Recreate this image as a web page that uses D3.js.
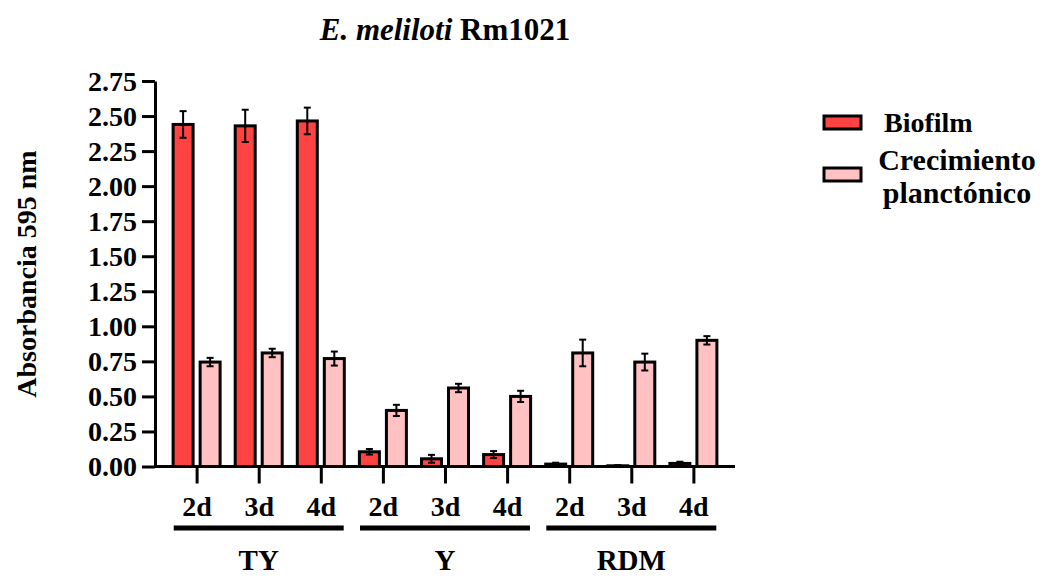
<!DOCTYPE html>
<html>
<head>
<meta charset="utf-8">
<script src="https://cdn.jsdelivr.net/npm/d3@7"></script>
<style>
  body { margin: 0; background: #fff; }
  text { font-family: "Liberation Serif", "Times New Roman", serif; font-weight: bold; fill: #000; }
  .axis path, .axis line { stroke: #000; stroke-width: 3; }
</style>
</head>
<body>
<div id="chart"></div>
<script>
// E. meliloti Rm1021 - biofilm vs planktonic growth

var groups = ["TY", "Y", "RDM"],
    days = ["2d", "3d", "4d"],
    categories = ["TY-2d", "TY-3d", "TY-4d", "Y-2d", "Y-3d", "Y-4d", "RDM-2d", "RDM-3d", "RDM-4d"],
    seriesNames = ["Biofilm", "Crecimiento planctónico"],
    biofilmMean = [2.44, 2.43, 2.465, 0.105, 0.055, 0.085, 0.017, 0.005, 0.022],
    biofilmErr = [0.095, 0.115, 0.095, 0.02, 0.028, 0.025, 0.01, 0.005, 0.012],
    planktonMean = [0.745, 0.81, 0.77, 0.40, 0.56, 0.50, 0.81, 0.745, 0.90],
    planktonErr = [0.03, 0.03, 0.05, 0.04, 0.03, 0.04, 0.095, 0.06, 0.03],
    yTicks = [0, 0.25, 0.5, 0.75, 1, 1.25, 1.5, 1.75, 2, 2.25, 2.5, 2.75];

var totwidth = 1042,
    totheight = 576,
    colors = ["#ff4242", "#ffc1c1"];

var svg = d3.select("#chart").append("svg")
    .attr("width", totwidth)
    .attr("height", totheight);

var xScale = d3.scalePoint()
    .domain(categories)
    .range([155, 735])
    .padding(0.67);

var subScale = d3.scaleBand()
    .domain(seriesNames)
    .range([-23.5, 23.5])
    .paddingInner(0.26);

var yScale = d3.scaleLinear()
    .domain([0, 2.75])
    .range([466.5, 81]);

var color = d3.scaleOrdinal().domain(seriesNames).range(colors);

// build rows: one per bar
var rows = [];
categories.forEach(function(c, i) {
  rows.push({cat: c, series: seriesNames[0], v: biofilmMean[i], e: biofilmErr[i]});
  rows.push({cat: c, series: seriesNames[1], v: planktonMean[i], e: planktonErr[i]});
});

// bars
svg.selectAll(".bar")
   .data(rows)
   .enter()
   .append("rect")
     .attr("class", "bar")
     .attr("x", function(d) { return xScale(d.cat) + subScale(d.series); })
     .attr("y", function(d) { return yScale(d.v); })
     .attr("width", subScale.bandwidth())
     .attr("height", function(d) { return yScale(0) - yScale(d.v); })
     .attr("fill", function(d) { return color(d.series); })
     .attr("stroke", "#000")
     .attr("stroke-width", 3);

// error bars
var err = svg.selectAll(".err")
   .data(rows)
   .enter()
   .append("g")
     .attr("class", "err")
     .attr("transform", function(d) {
       return "translate(" + (xScale(d.cat) + subScale(d.series) + subScale.bandwidth()/2) + ",0)";
     });

err.append("line")
   .attr("y1", function(d) { return yScale(d.v + d.e); })
   .attr("y2", function(d) { return yScale(Math.max(0, d.v - d.e)); })
   .attr("stroke", "#000")
   .attr("stroke-width", 2);

err.append("line")
   .attr("x1", -3.5).attr("x2", 3.5)
   .attr("y1", function(d) { return yScale(d.v + d.e); })
   .attr("y2", function(d) { return yScale(d.v + d.e); })
   .attr("stroke", "#000")
   .attr("stroke-width", 2);

err.append("line")
   .attr("x1", -3.5).attr("x2", 3.5)
   .attr("y1", function(d) { return yScale(Math.max(0, d.v - d.e)); })
   .attr("y2", function(d) { return yScale(Math.max(0, d.v - d.e)); })
   .attr("stroke", "#000")
   .attr("stroke-width", 2);

// y axis
var yAxis = svg.append("g")
    .attr("class", "axis")
    .attr("transform", "translate(155,0)")
    .call(d3.axisLeft(yScale)
      .tickValues(yTicks)
      .tickSize(13)
      .tickSizeOuter(0)
      .tickPadding(5)
      .tickFormat(d3.format(".2f")));
yAxis.selectAll("text").style("font-size", "28px").attr("dy", "0.33em");

// x axis
var xAxis = svg.append("g")
    .attr("class", "axis")
    .attr("transform", "translate(0," + yScale(0) + ")")
    .call(d3.axisBottom(xScale)
      .tickSize(17)
      .tickSizeOuter(0)
      .tickPadding(13)
      .tickFormat(function(d) { return d.split("-")[1]; }));
xAxis.select(".domain").attr("d", "M155,0H735");
xAxis.selectAll("text").style("font-size", "28px");

// group bars + labels
groups.forEach(function(g, i) {
  var cats = days.map(function(d) { return g + "-" + d; });
  var mid = (xScale(cats[0]) + xScale(cats[2])) / 2;
  svg.append("line")
     .attr("x1", mid - 85).attr("x2", mid + 85)
     .attr("y1", 528).attr("y2", 528)
     .attr("stroke", "#000")
     .attr("stroke-width", 5);
  svg.append("text")
     .attr("x", mid)
     .attr("y", 570)
     .attr("text-anchor", "middle")
     .style("font-size", "29px")
     .text(g);
}); // end groups

// y title
svg.append("text")
   .attr("transform", "translate(36,274) rotate(-90)")
   .attr("text-anchor", "middle")
   .style("font-size", "28px")
   .text("Absorbancia 595 nm");

// title
var title = svg.append("text")
   .attr("x", 445)
   .attr("y", 40)
   .attr("text-anchor", "middle")
   .style("font-size", "31px");
title.append("tspan").style("font-style", "italic").text("E. meliloti");
title.append("tspan").text(" Rm1021");

// legend
var legend = svg.append("g");
legend.selectAll("rect")
   .data(seriesNames)
   .enter()
   .append("rect")
     .attr("x", 824)
     .attr("y", function(d, i) { return i == 0 ? 116 : 168; })
     .attr("width", 37)
     .attr("height", 13)
     .attr("fill", function(d) { return color(d); })
     .attr("stroke", "#000")
     .attr("stroke-width", 3);

legend.append("text")
   .attr("x", 884).attr("y", 132)
   .style("font-size", "28px")
   .text("Biofilm");
legend.append("text")
   .attr("x", 957).attr("y", 170)
   .attr("text-anchor", "middle")
   .style("font-size", "30px")
   .text("Crecimiento");
legend.append("text")
   .attr("x", 957).attr("y", 203)
   .attr("text-anchor", "middle")
   .style("font-size", "30px")
   .text("planctónico");
</script>
</body>
</html>
